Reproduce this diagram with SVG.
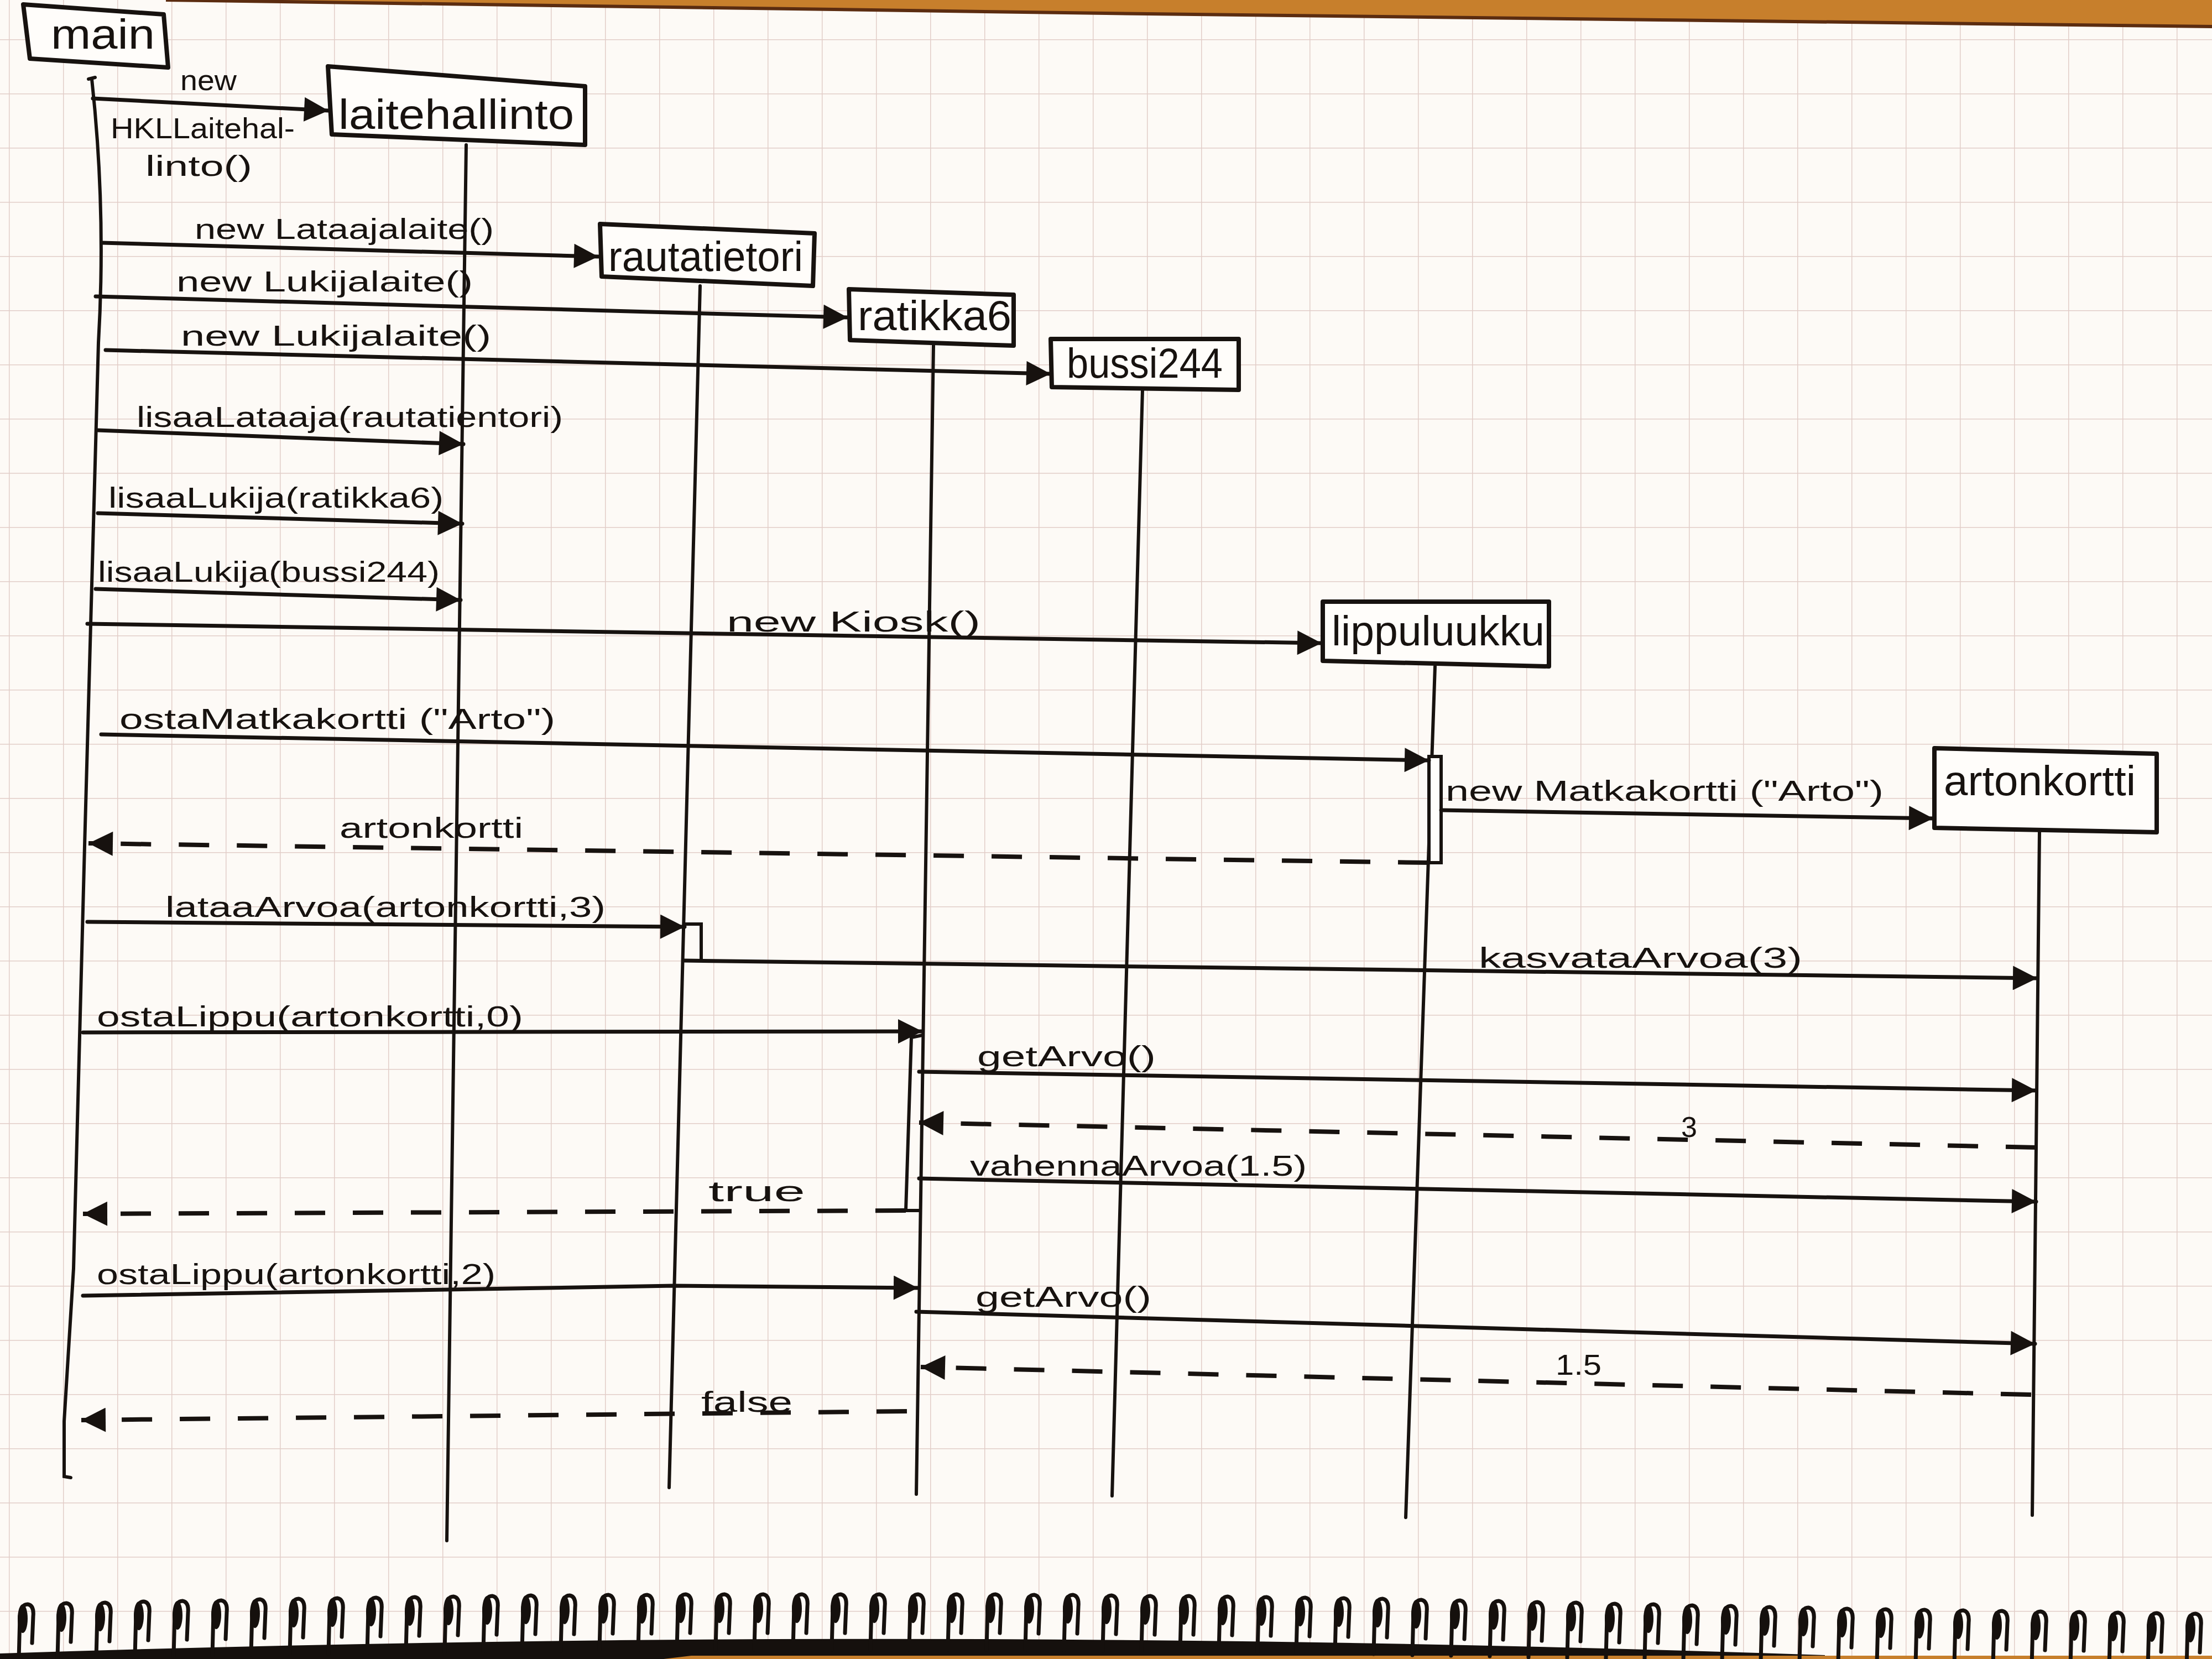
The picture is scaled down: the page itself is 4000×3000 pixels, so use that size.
<svg xmlns="http://www.w3.org/2000/svg" width="4000" height="3000" viewBox="0 0 4000 3000">
  <defs>
    <style>
      .life { stroke:#17120f; stroke-width:6; fill:none; stroke-linecap:round; }
      .box { fill:#fffdfa; stroke:#17120f; stroke-width:8; stroke-linejoin:round; }
      .msg { stroke:#17120f; stroke-width:7; fill:none; stroke-linecap:round; stroke-linejoin:round; marker-end:url(#head); }
      .ret { stroke-dasharray:55 50; stroke-linecap:butt; stroke-width:8; }
      .act { fill:#fffdfa; stroke:#17120f; stroke-width:6; }
      .lbl { font-family:"Liberation Sans", Arial, sans-serif; font-size:52px; fill:#17120f; }
      .name { font-size:76px; }
      .ring { fill:#15100d; }
      .ringleg { stroke:#15100d; stroke-width:7; fill:none; stroke-linecap:round; }
    </style>
    <pattern id="grid" x="16" y="71" width="98" height="98" patternUnits="userSpaceOnUse">
      <path d="M0 0 H98 M0 0 V98" stroke="#e2cdc8" stroke-width="3" fill="none"/>
    </pattern>
    <marker id="head" viewBox="0 0 10 10" refX="10" refY="5" markerWidth="46" markerHeight="44" markerUnits="userSpaceOnUse" orient="auto">
      <path d="M0,0 L10,5 L0,10 z" fill="#17120f"/>
    </marker>
    <!-- one ring of the spiral binding, top at y=0 -->
    <g id="ring">
      <path class="ringleg" d="M4,100 L6,22 Q8,0 20,0 Q32,2 30,22 L28,70"/>
      <ellipse class="ring" cx="11" cy="26" rx="9" ry="26"/>
    </g>
  </defs>

  <!-- paper and grid -->
  <rect x="0" y="0" width="4000" height="3000" fill="#fdfaf6"/>
  <rect x="0" y="0" width="4000" height="3000" fill="url(#grid)"/>

  <!-- desk edge along the top -->
  <path d="M300,0 L4000,0 L4000,48 L3000,36 L2000,24 L1000,10 Z" fill="#c77f2c"/>
  <path d="M300,0 L1000,10 L2000,24 L3000,36 L4000,48" stroke="#5b2c10" stroke-width="6" fill="none"/>

  <!-- spiral binding along the bottom -->
  <g id="binding">
    <path d="M0,3000 L0,2990 Q1640,2936 3300,2993 L3300,3000 Z" fill="#15100d"/>
    <path d="M1200,3000 L1250,2994 L4000,2994 L4000,3000 Z" fill="#c77f2c"/>
    <use href="#ring" x="30" y="2901"/>
    <use href="#ring" x="100" y="2899"/>
    <use href="#ring" x="170" y="2898"/>
    <use href="#ring" x="240" y="2896"/>
    <use href="#ring" x="310" y="2895"/>
    <use href="#ring" x="380" y="2894"/>
    <use href="#ring" x="450" y="2892"/>
    <use href="#ring" x="520" y="2891"/>
    <use href="#ring" x="590" y="2890"/>
    <use href="#ring" x="660" y="2889"/>
    <use href="#ring" x="730" y="2888"/>
    <use href="#ring" x="800" y="2887"/>
    <use href="#ring" x="870" y="2886"/>
    <use href="#ring" x="940" y="2885"/>
    <use href="#ring" x="1010" y="2885"/>
    <use href="#ring" x="1080" y="2884"/>
    <use href="#ring" x="1150" y="2884"/>
    <use href="#ring" x="1220" y="2883"/>
    <use href="#ring" x="1290" y="2883"/>
    <use href="#ring" x="1360" y="2883"/>
    <use href="#ring" x="1430" y="2883"/>
    <use href="#ring" x="1500" y="2883"/>
    <use href="#ring" x="1570" y="2883"/>
    <use href="#ring" x="1640" y="2883"/>
    <use href="#ring" x="1710" y="2883"/>
    <use href="#ring" x="1780" y="2883"/>
    <use href="#ring" x="1850" y="2884"/>
    <use href="#ring" x="1920" y="2884"/>
    <use href="#ring" x="1990" y="2885"/>
    <use href="#ring" x="2060" y="2886"/>
    <use href="#ring" x="2130" y="2886"/>
    <use href="#ring" x="2200" y="2887"/>
    <use href="#ring" x="2270" y="2888"/>
    <use href="#ring" x="2340" y="2889"/>
    <use href="#ring" x="2410" y="2890"/>
    <use href="#ring" x="2480" y="2891"/>
    <use href="#ring" x="2550" y="2893"/>
    <use href="#ring" x="2620" y="2894"/>
    <use href="#ring" x="2690" y="2895"/>
    <use href="#ring" x="2760" y="2897"/>
    <use href="#ring" x="2830" y="2898"/>
    <use href="#ring" x="2900" y="2900"/>
    <use href="#ring" x="2970" y="2901"/>
    <use href="#ring" x="3040" y="2903"/>
    <use href="#ring" x="3110" y="2904"/>
    <use href="#ring" x="3180" y="2906"/>
    <use href="#ring" x="3250" y="2907"/>
    <use href="#ring" x="3320" y="2909"/>
    <use href="#ring" x="3390" y="2910"/>
    <use href="#ring" x="3460" y="2911"/>
    <use href="#ring" x="3530" y="2912"/>
    <use href="#ring" x="3600" y="2913"/>
    <use href="#ring" x="3670" y="2914"/>
    <use href="#ring" x="3740" y="2915"/>
    <use href="#ring" x="3810" y="2916"/>
    <use href="#ring" x="3880" y="2917"/>
    <use href="#ring" x="3950" y="2918"/>
  </g>

  <!-- participants -->
  <g id="node-main">
    <polygon class="box" points="42,8 296,26 304,122 54,106"/>
    <text class="lbl name" x="92" y="88" font-size="72" textLength="188" lengthAdjust="spacingAndGlyphs">main</text>
    <path class="life" d="M160,143 L172,140 M166,143 Q192,380 178,620 L153,1530 L133,2294 L116,2570 L116,2670 L128,2672"/>
  </g>
  <g id="node-laitehallinto">
    <polygon class="box" points="593,120 1058,156 1058,262 600,243"/>
    <text class="lbl name" x="612" y="233" textLength="426" lengthAdjust="spacingAndGlyphs">laitehallinto</text>
    <line class="life" x1="843" y1="262" x2="808" y2="2786"/>
  </g>
  <g id="node-rautatietori">
    <polygon class="box" points="1085,405 1473,422 1470,517 1088,500"/>
    <text class="lbl name" x="1100" y="490" textLength="352" lengthAdjust="spacingAndGlyphs">rautatietori</text>
    <line class="life" x1="1266" y1="517" x2="1210" y2="2690"/>
  </g>
  <g id="node-ratikka6">
    <polygon class="box" points="1535,523 1833,533 1833,625 1537,615"/>
    <text class="lbl name" x="1551" y="597" textLength="278" lengthAdjust="spacingAndGlyphs">ratikka6</text>
    <line class="life" x1="1688" y1="625" x2="1657" y2="2702"/>
  </g>
  <g id="node-bussi244">
    <polygon class="box" points="1900,613 2240,613 2240,705 1902,700"/>
    <text class="lbl name" x="1929" y="683" textLength="282" lengthAdjust="spacingAndGlyphs">bussi244</text>
    <line class="life" x1="2066" y1="705" x2="2011" y2="2705"/>
  </g>
  <g id="node-lippuluukku">
    <polygon class="box" points="2392,1088 2801,1088 2801,1205 2392,1195"/>
    <text class="lbl name" x="2408" y="1167" textLength="385" lengthAdjust="spacingAndGlyphs">lippuluukku</text>
    <line class="life" x1="2595" y1="1205" x2="2542" y2="2744"/>
  </g>
  <g id="node-artonkortti">
    <polygon class="box" points="3498,1353 3900,1363 3900,1505 3498,1497"/>
    <text class="lbl name" x="3515" y="1438" textLength="347" lengthAdjust="spacingAndGlyphs">artonkortti</text>
    <line class="life" x1="3688" y1="1505" x2="3675" y2="2740"/>
  </g>

  <!-- activation bars -->
  <g id="activations">
    <rect class="act" x="2584" y="1368" width="22" height="192"/>
    <path class="life" d="M1238,1671 L1268,1671 L1268,1737"/>
    <path class="life" d="M1668,1872 L1648,1876 L1638,2189 L1662,2189"/>
  </g>

  <!-- messages and returns -->
  <g id="connectors">
    <line class="msg" x1="168" y1="178" x2="594" y2="200"/>
    <line class="msg" x1="184" y1="439" x2="1082" y2="464"/>
    <line class="msg" x1="173" y1="536" x2="1533" y2="574"/>
    <line class="msg" x1="191" y1="633" x2="1900" y2="676"/>
    <line class="msg" x1="177" y1="778" x2="838" y2="803"/>
    <line class="msg" x1="177" y1="928" x2="836" y2="947"/>
    <line class="msg" x1="173" y1="1065" x2="833" y2="1085"/>
    <line class="msg" x1="158" y1="1128" x2="2390" y2="1163"/>
    <line class="msg" x1="183" y1="1328" x2="2584" y2="1375"/>
    <line class="msg" x1="2606" y1="1465" x2="3496" y2="1480"/>
    <line class="msg ret" x1="2583" y1="1560" x2="160" y2="1525"/>
    <line class="msg" x1="158" y1="1667" x2="1238" y2="1676"/>
    <line class="msg" x1="1238" y1="1737" x2="3684" y2="1769"/>
    <line class="msg" x1="150" y1="1867" x2="1668" y2="1865"/>
    <line class="msg" x1="1662" y1="1938" x2="3682" y2="1972"/>
    <line class="msg ret" x1="3682" y1="2075" x2="1662" y2="2030"/>
    <line class="msg" x1="1662" y1="2131" x2="3682" y2="2173"/>
    <line class="msg ret" x1="1638" y1="2189" x2="150" y2="2195"/>
    <polyline class="msg" points="150,2343 1219,2325 1660,2329"/>
    <line class="msg" x1="1657" y1="2372" x2="3680" y2="2430"/>
    <line class="msg ret" x1="3673" y1="2522" x2="1665" y2="2472"/>
    <line class="msg ret" x1="1640" y1="2552" x2="147" y2="2568"/>
  </g>

  <!-- message labels -->
  <g id="labels">
    <text class="lbl" x="326" y="163" textLength="102" lengthAdjust="spacingAndGlyphs">new</text>
    <text class="lbl" x="200" y="250" textLength="333" lengthAdjust="spacingAndGlyphs">HKLLaitehal-</text>
    <text class="lbl" x="263" y="318" textLength="193" lengthAdjust="spacingAndGlyphs">linto()</text>
    <text class="lbl" x="352" y="432" textLength="541" lengthAdjust="spacingAndGlyphs">new Lataajalaite()</text>
    <text class="lbl" x="319" y="527" textLength="536" lengthAdjust="spacingAndGlyphs">new Lukijalaite()</text>
    <text class="lbl" x="327" y="625" textLength="561" lengthAdjust="spacingAndGlyphs">new Lukijalaite()</text>
    <text class="lbl" x="247" y="772" textLength="771" lengthAdjust="spacingAndGlyphs">lisaaLataaja(rautatientori)</text>
    <text class="lbl" x="196" y="918" textLength="606" lengthAdjust="spacingAndGlyphs">lisaaLukija(ratikka6)</text>
    <text class="lbl" x="177" y="1052" textLength="618" lengthAdjust="spacingAndGlyphs">lisaaLukija(bussi244)</text>
    <text class="lbl" x="1314" y="1142" textLength="459" lengthAdjust="spacingAndGlyphs">new Kiosk()</text>
    <text class="lbl" x="216" y="1318" textLength="788" lengthAdjust="spacingAndGlyphs">ostaMatkakortti ("Arto")</text>
    <text class="lbl" x="2614" y="1448" textLength="792" lengthAdjust="spacingAndGlyphs">new Matkakortti ("Arto")</text>
    <text class="lbl" x="614" y="1515" textLength="332" lengthAdjust="spacingAndGlyphs">artonkortti</text>
    <text class="lbl" x="299" y="1658" textLength="796" lengthAdjust="spacingAndGlyphs">lataaArvoa(artonkortti,3)</text>
    <text class="lbl" x="2674" y="1750" textLength="585" lengthAdjust="spacingAndGlyphs">kasvataArvoa(3)</text>
    <text class="lbl" x="175" y="1856" textLength="771" lengthAdjust="spacingAndGlyphs">ostaLippu(artonkortti,0)</text>
    <text class="lbl" x="1767" y="1928" textLength="323" lengthAdjust="spacingAndGlyphs">getArvo()</text>
    <text class="lbl" x="3040" y="2056" font-size="46">3</text>
    <text class="lbl" x="1754" y="2126" textLength="609" lengthAdjust="spacingAndGlyphs">vahennaArvoa(1.5)</text>
    <text class="lbl" x="1281" y="2172" textLength="175" lengthAdjust="spacingAndGlyphs">true</text>
    <text class="lbl" x="175" y="2322" textLength="721" lengthAdjust="spacingAndGlyphs">ostaLippu(artonkortti,2)</text>
    <text class="lbl" x="1764" y="2363" textLength="318" lengthAdjust="spacingAndGlyphs">getArvo()</text>
    <text class="lbl" x="2813" y="2486" font-size="44" textLength="83" lengthAdjust="spacingAndGlyphs">1.5</text>
    <text class="lbl" x="1268" y="2553" textLength="165" lengthAdjust="spacingAndGlyphs">false</text>
  </g>
</svg>
